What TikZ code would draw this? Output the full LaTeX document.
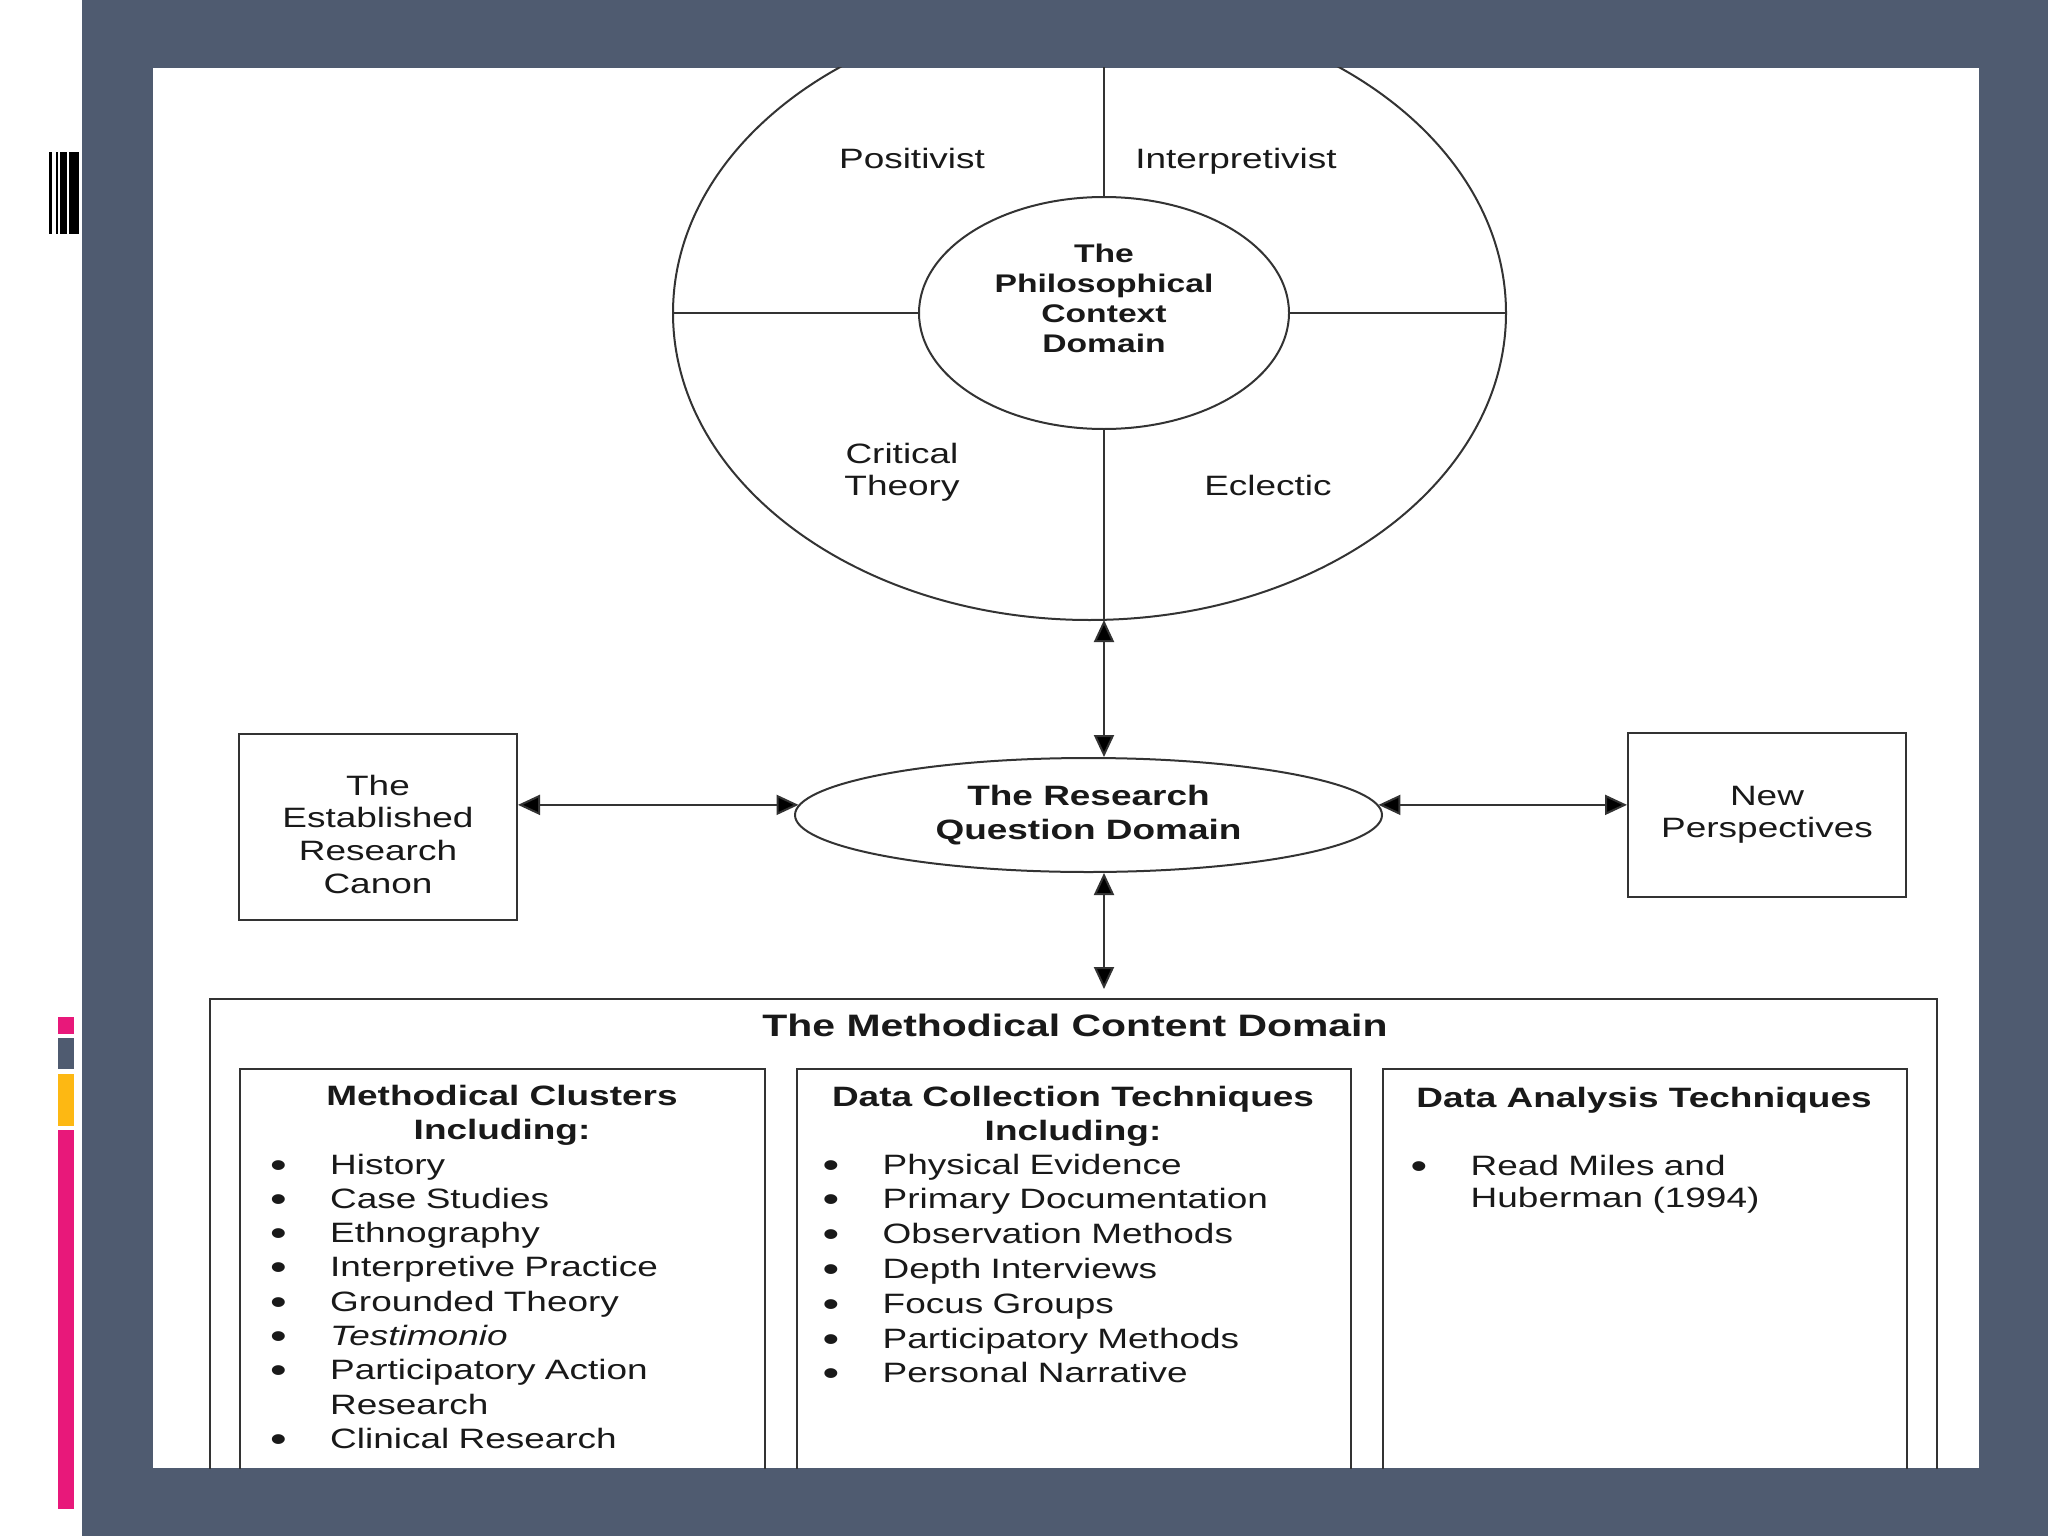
\documentclass[tikz,border=0pt]{standalone}
\usepackage{fontspec}
\setmainfont{Liberation Sans}[FakeStretch=1.32]
\usetikzlibrary{shapes.geometric,arrows.meta}
\definecolor{slate}{RGB}{79,91,112}
\definecolor{hotpink}{RGB}{232,24,122}
\definecolor{amber}{RGB}{253,184,19}
\def\bul{\makebox[60pt][l]{\raisebox{-3pt}{\fontsize{36}{36}\selectfont\textbullet}}}
\def\indt{\hspace*{60pt}}
\def\txtsz{\fontsize{28}{34.5}\selectfont}

\begin{document}
\begin{tikzpicture}[x=1pt,y=-1pt,
  ln/.style={draw=black!80,line width=2pt},
  oval/.style={ellipse,ln,inner sep=0pt,text=black!90},
  boxnode/.style={rectangle,ln,inner sep=0pt,align=center,text=black!90},
  dbl/.style={ln,{Triangle[length=22pt,width=20pt,fill=black]}-{Triangle[length=22pt,width=20pt,fill=black]}},
  lbl/.style={text=black!90,font=\txtsz,inner sep=0pt,anchor=base,align=center},
  hd/.style={lbl,font=\fontsize{28}{34}\selectfont\bfseries},
  lst/.style={lbl,anchor=base west,align=left,text width=520pt}]
\useasboundingbox (0,0) rectangle (2048,1536);
%
\fill[slate] (0,0) rectangle (2048,1536);
\fill[white] (0,0) rectangle (82,1536);
\fill[white] (153,68) rectangle (1979,1468);
\foreach \a/\b in {49.3/51.7,55.7/58.3,60/66.7,69/79.3}
  \fill[black] (\a,152) rectangle (\b,234);
\fill[hotpink] (57.5,1017) rectangle (73.5,1034);
\fill[slate] (57.5,1038) rectangle (73.5,1069);
\fill[amber] (57.5,1074) rectangle (73.5,1126);
\fill[hotpink] (57.5,1130) rectangle (73.5,1509);
%
\begin{scope}
\clip (153,68) rectangle (1979,1468);
\node[oval,minimum width=833pt,minimum height=614pt] (outer) at (1089.5,313) {};
\node[oval,minimum width=370pt,minimum height=232pt] (philo) at (1104,313) {};
\coordinate (vtop) at (1104,40);
\coordinate (vbot) at (1104,620);
\draw[ln] (philo.north) -- (vtop);
\draw[ln] (philo.south) -- (vbot);
\draw[ln] (outer.west) -- (philo.west);
\draw[ln] (philo.east) -- (outer.east);
\node[lbl] at (912,168) {Positivist};
\node[lbl] at (1236,168) {Interpretivist};
\node[lbl,font=\fontsize{28}{32}\selectfont] at (902,495) {Critical\\Theory};
\node[lbl] at (1268,495) {Eclectic};
\node[hd,font=\fontsize{25.5}{30}\selectfont\bfseries] at (1104,352) {The\\Philosophical\\Context\\Domain};
%
\node[oval,minimum width=587pt,minimum height=114pt,align=center,
      font=\fontsize{28}{34}\selectfont\bfseries] (rq) at (1088.5,815) {The Research\\Question Domain};
\node[boxnode,minimum width=278pt,minimum height=186pt] (canon) at (378,827) {};
\node[lbl,font=\fontsize{28}{32.6}\selectfont] at (378,893) {The\\Established\\Research\\Canon};
\node[boxnode,minimum width=278pt,minimum height=164pt,
      font=\fontsize{28}{32}\selectfont] (newp) at (1767,815) {New\\Perspectives};
%
\node[boxnode,anchor=north west,minimum width=1727pt,minimum height=560pt] (content) at (209,998) {};
\node[boxnode,anchor=north west,minimum width=525pt,minimum height=480pt] (clusters) at (239,1068) {};
\node[boxnode,anchor=north west,minimum width=554pt,minimum height=480pt] (collect) at (796,1068) {};
\node[boxnode,anchor=north west,minimum width=524pt,minimum height=480pt] (analysis) at (1382,1068) {};
%
\draw[dbl] (vbot) -- (vbot |- rq.north);
\draw[dbl] (rq.south -| vbot) -- ([yshift=9pt]vbot |- content.north);
\draw[dbl] (rq.178) -- (rq.178 -| canon.east);
\draw[dbl] (rq.2) -- (rq.2 -| newp.west);
%
\node[hd,font=\fontsize{31}{34}\selectfont\bfseries] at (1075,1036) {The Methodical Content Domain};
\node[hd] at (502,1139) {Methodical Clusters\\Including:};
\node[hd] at (1073,1140) {Data Collection Techniques\\Including:};
\node[hd] at (1644,1107) {Data Analysis Techniques};
\node[lst,font=\fontsize{28}{34.3}\selectfont] at (270,1174) {\bul History\\ \bul Case Studies\\ \bul Ethnography\\
  \bul Interpretive Practice\\ \bul Grounded Theory\\ \bul \textit{Testimonio}\\
  \bul Participatory Action\\ \indt Research\\ \bul Clinical Research};
\node[lst,font=\fontsize{28}{34.8}\selectfont] at (822.5,1174) {\bul Physical Evidence\\ \bul Primary Documentation\\
  \bul Observation Methods\\ \bul Depth Interviews\\ \bul Focus Groups\\
  \bul Participatory Methods\\ \bul Personal Narrative};
\node[lst,font=\fontsize{28}{32}\selectfont] at (1410.5,1175) {\bul Read Miles and\\ \indt Huberman (1994)};
\end{scope}
\end{tikzpicture}
\end{document}
